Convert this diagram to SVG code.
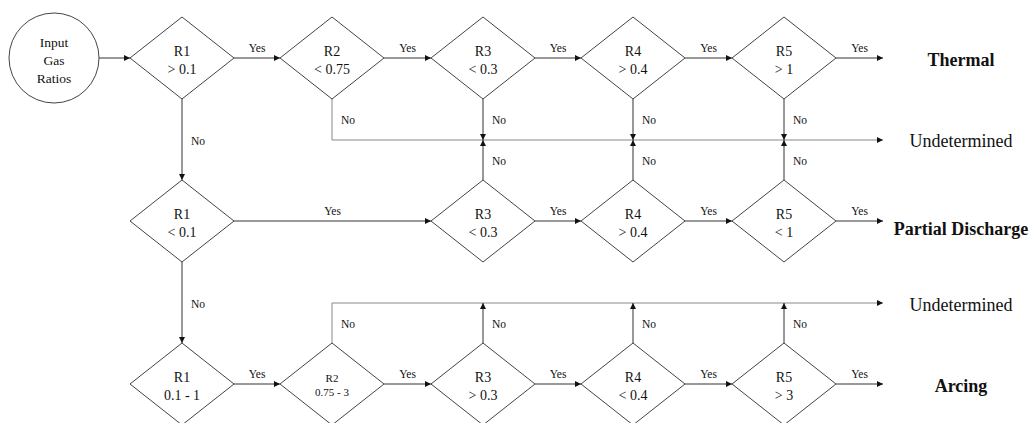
<svg xmlns="http://www.w3.org/2000/svg" width="1034" height="423" viewBox="0 0 1034 423">
<style>
  text { font-family: "Liberation Serif", "Times New Roman", serif; fill: #111; }
  .shape { fill: #fff; stroke: #444; stroke-width: 1; }
  .d { font-size: 14px; text-anchor: middle; }
  .ds { font-size: 11px; text-anchor: middle; }
  .lbl { font-size: 11.5px; }
  .yes { font-size: 11.5px; text-anchor: middle; }
  .out { font-size: 18px; text-anchor: middle; }
  .outb { font-size: 18px; font-weight: bold; text-anchor: middle; }
  .c { fill: none; stroke: #333; stroke-width: 1; }
  .cg { fill: none; stroke: #888; stroke-width: 1; }
</style>
<defs>
  <marker id="arr" viewBox="0 0 6 6" refX="6" refY="3" markerWidth="6" markerHeight="6" markerUnits="userSpaceOnUse" orient="auto">
    <path d="M0,0 L6,3 L0,6 z" fill="#111"/>
  </marker>
</defs>
<rect width="1034" height="423" fill="#fff"/>

<g id="connectors">
  <path class="c" d="M99,58 H130" marker-end="url(#arr)"/>
  <path class="c" d="M234,58 H280" marker-end="url(#arr)"/>
  <path class="c" d="M384,58 H431" marker-end="url(#arr)"/>
  <path class="c" d="M535,58 H581" marker-end="url(#arr)"/>
  <path class="c" d="M685,58 H732" marker-end="url(#arr)"/>
  <path class="c" d="M836,58 H883" marker-end="url(#arr)"/>
  <path class="c" d="M182,99 V180" marker-end="url(#arr)"/>
  <path class="cg" d="M332,99 V140 H883" marker-end="url(#arr)"/>
  <path class="c" d="M483,99 V140" marker-end="url(#arr)"/>
  <path class="c" d="M633,99 V140" marker-end="url(#arr)"/>
  <path class="c" d="M784,99 V140" marker-end="url(#arr)"/>
  <path class="c" d="M483,180 V140" marker-end="url(#arr)"/>
  <path class="c" d="M633,180 V140" marker-end="url(#arr)"/>
  <path class="c" d="M784,180 V140" marker-end="url(#arr)"/>
  <path class="c" d="M234,221 H431" marker-end="url(#arr)"/>
  <path class="c" d="M535,221 H581" marker-end="url(#arr)"/>
  <path class="c" d="M685,221 H732" marker-end="url(#arr)"/>
  <path class="c" d="M836,221 H883" marker-end="url(#arr)"/>
  <path class="c" d="M182,262 V343" marker-end="url(#arr)"/>
  <path class="c" d="M234,384 H280" marker-end="url(#arr)"/>
  <path class="c" d="M384,384 H431" marker-end="url(#arr)"/>
  <path class="c" d="M535,384 H581" marker-end="url(#arr)"/>
  <path class="c" d="M685,384 H732" marker-end="url(#arr)"/>
  <path class="c" d="M836,384 H883" marker-end="url(#arr)"/>
  <path class="cg" d="M332,343 V303 H883" marker-end="url(#arr)"/>
  <path class="c" d="M483,343 V303" marker-end="url(#arr)"/>
  <path class="c" d="M633,343 V303" marker-end="url(#arr)"/>
  <path class="c" d="M784,343 V303" marker-end="url(#arr)"/>

  <text class="yes" x="257" y="52">Yes</text>
  <text class="yes" x="407.5" y="52">Yes</text>
  <text class="yes" x="558" y="52">Yes</text>
  <text class="yes" x="708.5" y="52">Yes</text>
  <text class="yes" x="859.5" y="52">Yes</text>
  <text class="yes" x="332.5" y="215">Yes</text>
  <text class="yes" x="558" y="215">Yes</text>
  <text class="yes" x="708.5" y="215">Yes</text>
  <text class="yes" x="859.5" y="215">Yes</text>
  <text class="yes" x="257" y="378">Yes</text>
  <text class="yes" x="407.5" y="378">Yes</text>
  <text class="yes" x="558" y="378">Yes</text>
  <text class="yes" x="708.5" y="378">Yes</text>
  <text class="yes" x="859.5" y="378">Yes</text>

  <text class="lbl" x="341" y="124">No</text>
  <text class="lbl" x="492" y="124">No</text>
  <text class="lbl" x="642" y="124">No</text>
  <text class="lbl" x="793" y="124">No</text>
  <text class="lbl" x="191" y="145">No</text>
  <text class="lbl" x="492" y="165">No</text>
  <text class="lbl" x="642" y="165">No</text>
  <text class="lbl" x="793" y="165">No</text>
  <text class="lbl" x="191" y="308">No</text>
  <text class="lbl" x="341" y="328">No</text>
  <text class="lbl" x="492" y="328">No</text>
  <text class="lbl" x="642" y="328">No</text>
  <text class="lbl" x="793" y="328">No</text>
</g>

<g id="input">
  <circle class="shape" cx="54" cy="58" r="45"/>
  <text class="d" x="54" y="47" style="font-size:13.5px">Input</text>
  <text class="d" x="54" y="65" style="font-size:13.5px">Gas</text>
  <text class="d" x="54" y="83" style="font-size:13.5px">Ratios</text>
</g>

<g id="t-r1">
  <polygon class="shape" points="130,58 182,17 234,58 182,99"/>
  <text class="d" x="182" y="56">R1</text>
  <text class="d" x="182" y="74">&gt; 0.1</text>
</g>
<g id="t-r2">
  <polygon class="shape" points="280,58 332,17 384,58 332,99"/>
  <text class="d" x="332" y="56">R2</text>
  <text class="d" x="332" y="74">&lt; 0.75</text>
</g>
<g id="t-r3">
  <polygon class="shape" points="431,58 483,17 535,58 483,99"/>
  <text class="d" x="483" y="56">R3</text>
  <text class="d" x="483" y="74">&lt; 0.3</text>
</g>
<g id="t-r4">
  <polygon class="shape" points="581,58 633,17 685,58 633,99"/>
  <text class="d" x="633" y="56">R4</text>
  <text class="d" x="633" y="74">&gt; 0.4</text>
</g>
<g id="t-r5">
  <polygon class="shape" points="732,58 784,17 836,58 784,99"/>
  <text class="d" x="784" y="56">R5</text>
  <text class="d" x="784" y="74">&gt; 1</text>
</g>

<g id="p-r1">
  <polygon class="shape" points="130,221 182,180 234,221 182,262"/>
  <text class="d" x="182" y="219">R1</text>
  <text class="d" x="182" y="237">&lt; 0.1</text>
</g>
<g id="p-r3">
  <polygon class="shape" points="431,221 483,180 535,221 483,262"/>
  <text class="d" x="483" y="219">R3</text>
  <text class="d" x="483" y="237">&lt; 0.3</text>
</g>
<g id="p-r4">
  <polygon class="shape" points="581,221 633,180 685,221 633,262"/>
  <text class="d" x="633" y="219">R4</text>
  <text class="d" x="633" y="237">&gt; 0.4</text>
</g>
<g id="p-r5">
  <polygon class="shape" points="732,221 784,180 836,221 784,262"/>
  <text class="d" x="784" y="219">R5</text>
  <text class="d" x="784" y="237">&lt; 1</text>
</g>

<g id="a-r1">
  <polygon class="shape" points="130,384 182,343 234,384 182,425"/>
  <text class="d" x="182" y="382">R1</text>
  <text class="d" x="182" y="400">0.1 - 1</text>
</g>
<g id="a-r2">
  <polygon class="shape" points="280,384 332,343 384,384 332,425"/>
  <text class="ds" x="332" y="382">R2</text>
  <text class="ds" x="332" y="396">0.75 - 3</text>
</g>
<g id="a-r3">
  <polygon class="shape" points="431,384 483,343 535,384 483,425"/>
  <text class="d" x="483" y="382">R3</text>
  <text class="d" x="483" y="400">&gt; 0.3</text>
</g>
<g id="a-r4">
  <polygon class="shape" points="581,384 633,343 685,384 633,425"/>
  <text class="d" x="633" y="382">R4</text>
  <text class="d" x="633" y="400">&lt; 0.4</text>
</g>
<g id="a-r5">
  <polygon class="shape" points="732,384 784,343 836,384 784,425"/>
  <text class="d" x="784" y="382">R5</text>
  <text class="d" x="784" y="400">&gt; 3</text>
</g>

<g id="outcomes">
  <text class="outb" x="961" y="66">Thermal</text>
  <text class="out" x="961" y="147">Undetermined</text>
  <text class="outb" x="961" y="235">Partial Discharge</text>
  <text class="out" x="961" y="311">Undetermined</text>
  <text class="outb" x="961" y="392">Arcing</text>
</g>
</svg>
